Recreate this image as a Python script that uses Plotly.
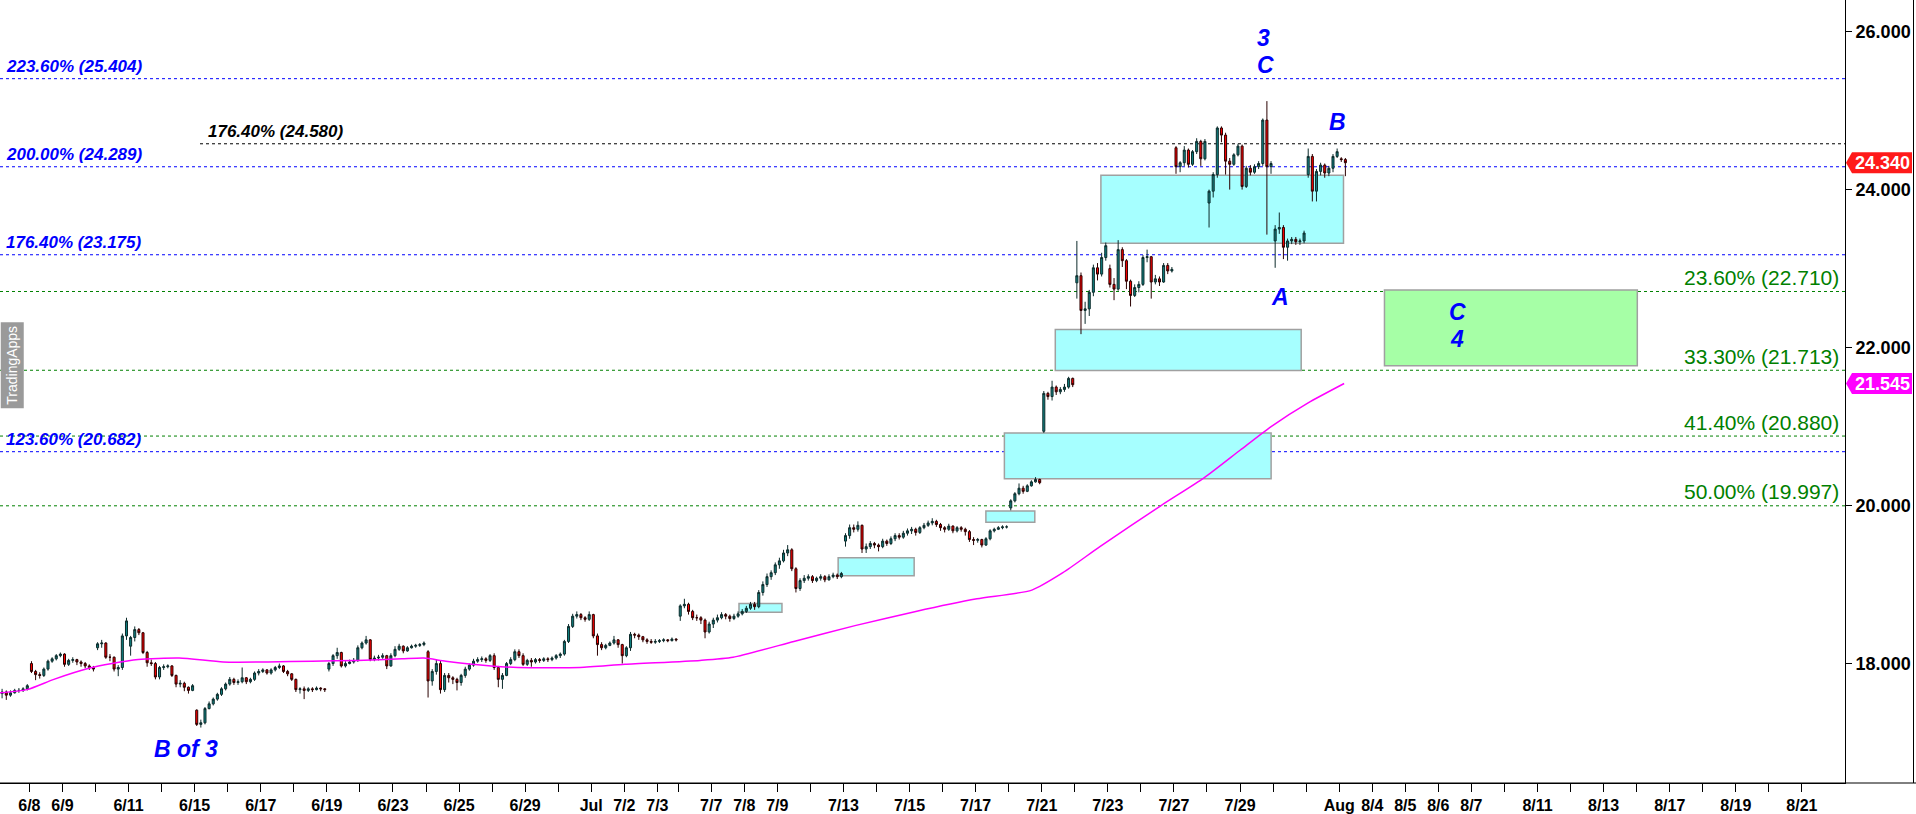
import plotly.graph_objects as go

# ---------------- axis calendar (weekdays 6/8 .. 8/21) ----------------
tick_labels = ["6/8", "6/9", "", "6/11", "",
               "6/15", "", "6/17", "", "6/19",
               "", "6/23", "", "6/25", "",
               "6/29", "", "Jul", "7/2", "7/3",
               "", "7/7", "7/8", "7/9", "",
               "7/13", "", "7/15", "", "7/17",
               "", "7/21", "", "7/23", "",
               "7/27", "", "7/29", "", "",
               "Aug", "8/4", "8/5", "8/6", "8/7",
               "", "8/11", "", "8/13", "",
               "8/17", "", "8/19", "", "8/21"]
short_session_index = 19      # 7/3 holiday-shortened session
short_session_len = 0.63

# ---------------- candle data (one list per session) ----------------
bar_days = ["6/5", "6/8", "6/9", "6/10", "6/11", "6/12", "6/15", "6/16", "6/17", "6/18", "6/19",
            "6/22", "6/23", "6/24", "6/25", "6/26", "6/29", "6/30", "7/1", "7/2", "7/3",
            "7/6", "7/7", "7/8", "7/9", "7/10", "7/13", "7/14", "7/15", "7/16", "7/17",
            "7/20", "7/21", "7/22", "7/23", "7/24", "7/27", "7/28", "7/29", "7/30", "7/31", "8/3"]

day_open = [17.62, 18.00, None, 18.20, 18.22, None, 17.41, None, None, None, 17.93,
            None, None, 18.15, None, None, None, None, None, None, None,
            18.60, None, None, None, None, 19.55, None, None, None, None,
            19.97, 20.94, 22.82, 23.00, None, 24.53, 23.83, None, 23.35, 24.19, 24.39]

closes = [
    [17.64, 17.60, 17.63, 17.66, 17.66, 17.68, 17.72],
    [17.90, 17.86, 17.85, 17.93, 18.03, 18.06, 18.10, 18.12],
    [17.99, 18.04, 18.05, 18.02, 18.00, 17.97, 17.95, 17.93],
    [18.25, 18.26, 18.08, 18.08, 17.93, 17.95, 18.35, 18.54],
    [18.33, 18.43, 18.39, 18.14, 18.01, 18.00, 17.83, 17.95],
    [17.96, 17.97, 17.85, 17.74, 17.75, 17.70, 17.66, 17.72],
    [17.23, 17.25, 17.43, 17.49, 17.55, 17.61, 17.68, 17.74],
    [17.80, 17.76, 17.77, 17.82, 17.77, 17.80, 17.88, 17.90],
    [17.92, 17.88, 17.92, 17.95, 17.97, 17.90, 17.87, 17.80],
    [17.67, 17.68, 17.66, 17.68, 17.67, 17.69, 17.68, 17.67],
    [18.00, 18.10, 18.14, 17.97, 18.00, 18.02, 18.04, 18.20],
    [18.26, 18.30, 18.05, 18.07, 18.08, 18.10, 17.97, 18.10],
    [18.18, 18.22, 18.16, 18.20, 18.22, 18.23, 18.24, 18.26],
    [17.78, 17.90, 18.00, 17.67, 17.85, 17.82, 17.80, 17.76],
    [17.85, 17.93, 17.98, 18.03, 18.05, 18.06, 18.04, 18.10],
    [17.95, 17.80, 17.85, 18.00, 18.05, 18.15, 18.10, 17.99],
    [18.04, 18.02, 18.05, 18.04, 18.06, 18.05, 18.07, 18.10],
    [18.12, 18.28, 18.47, 18.60, 18.62, 18.58, 18.56, 18.62],
    [18.35, 18.24, 18.20, 18.23, 18.26, 18.30, 18.24, 18.10],
    [18.20, 18.37, 18.36, 18.34, 18.30, 18.28, 18.27, 18.28],
    [18.29, 18.30, 18.29, 18.31, 18.30],
    [18.73, 18.75, 18.66, 18.58, 18.58, 18.55, 18.40, 18.50],
    [18.55, 18.58, 18.62, 18.60, 18.57, 18.60, 18.63, 18.66],
    [18.70, 18.75, 18.72, 18.90, 19.00, 19.10, 19.15, 19.25],
    [19.30, 19.40, 19.44, 19.20, 18.95, 19.05, 19.08, 19.10],
    [19.05, 19.08, 19.10, 19.06, 19.10, 19.12, 19.10, 19.14],
    [19.62, 19.72, 19.70, 19.75, 19.45, 19.48, 19.52, 19.50],
    [19.48, 19.55, 19.52, 19.58, 19.62, 19.60, 19.65, 19.68],
    [19.70, 19.66, 19.72, 19.75, 19.78, 19.80, 19.76, 19.72],
    [19.70, 19.74, 19.68, 19.72, 19.70, 19.67, 19.57, 19.56],
    [19.57, 19.50, 19.58, 19.68, 19.70, 19.72, 19.73, 19.73],
    [20.06, 20.15, 20.22, 20.18, 20.25, 20.30, 20.33, 20.29],
    [21.42, 21.38, 21.50, 21.44, 21.47, 21.50, 21.61, 21.53],
    [22.91, 22.47, 22.49, 22.70, 23.01, 22.93, 23.14, 23.29],
    [22.80, 22.74, 23.24, 23.10, 22.84, 22.66, 22.76, 22.80],
    [23.14, 23.15, 22.83, 22.87, 22.83, 23.04, 22.97, 22.99],
    [24.29, 24.34, 24.50, 24.32, 24.48, 24.61, 24.39, 24.61],
    [23.98, 24.19, 24.78, 24.69, 24.36, 24.32, 24.44, 24.55],
    [24.04, 24.27, 24.22, 24.29, 24.33, 24.88, 24.29, 24.33],
    [23.50, 23.52, 23.27, 23.35, 23.37, 23.34, 23.35, 23.45],
    [24.42, 23.98, 24.23, 24.31, 24.21, 24.27, 24.42, 24.48],
    [24.38, 24.34],
]

highs = [
    [17.68, 17.66, 17.66, 17.68, 17.69, 17.70, 17.74],
    [18.03, 17.92, 17.89, 17.95, 18.05, 18.08, 18.12, 18.14],
    [18.13, 18.06, 18.08, 18.06, 18.04, 18.02, 17.99, 17.97],
    [18.27, 18.30, 18.27, 18.12, 18.09, 17.98, 18.38, 18.58],
    [18.35, 18.47, 18.45, 18.40, 18.16, 18.05, 18.02, 17.97],
    [17.99, 17.99, 17.98, 17.86, 17.79, 17.77, 17.71, 17.74],
    [17.42, 17.29, 17.45, 17.52, 17.57, 17.63, 17.70, 17.76],
    [17.83, 17.82, 17.80, 17.95, 17.83, 17.82, 17.90, 17.93],
    [17.94, 17.93, 17.94, 17.97, 18.00, 17.98, 17.92, 17.88],
    [17.81, 17.70, 17.71, 17.70, 17.70, 17.71, 17.70, 17.69],
    [18.02, 18.12, 18.20, 18.15, 18.03, 18.05, 18.07, 18.23],
    [18.28, 18.35, 18.31, 18.10, 18.11, 18.13, 18.11, 18.13],
    [18.22, 18.25, 18.23, 18.22, 18.24, 18.25, 18.26, 18.28],
    [18.17, 17.93, 18.05, 18.04, 17.88, 17.88, 17.84, 17.82],
    [17.87, 17.96, 18.00, 18.06, 18.08, 18.09, 18.08, 18.12],
    [18.13, 17.97, 17.88, 18.02, 18.08, 18.18, 18.18, 18.13],
    [18.06, 18.07, 18.07, 18.07, 18.08, 18.08, 18.09, 18.12],
    [18.14, 18.30, 18.50, 18.63, 18.66, 18.64, 18.60, 18.66],
    [18.63, 18.38, 18.27, 18.25, 18.28, 18.35, 18.31, 18.25],
    [18.22, 18.40, 18.39, 18.38, 18.35, 18.32, 18.31, 18.31],
    [18.31, 18.32, 18.31, 18.33, 18.32],
    [18.75, 18.82, 18.77, 18.68, 18.62, 18.60, 18.57, 18.53],
    [18.58, 18.62, 18.65, 18.64, 18.62, 18.63, 18.66, 18.69],
    [18.73, 18.78, 18.78, 18.93, 19.04, 19.14, 19.18, 19.28],
    [19.34, 19.44, 19.50, 19.46, 19.22, 19.08, 19.12, 19.13],
    [19.12, 19.10, 19.13, 19.12, 19.13, 19.15, 19.14, 19.16],
    [19.65, 19.76, 19.76, 19.80, 19.76, 19.52, 19.55, 19.54],
    [19.52, 19.58, 19.57, 19.61, 19.65, 19.65, 19.68, 19.71],
    [19.73, 19.72, 19.74, 19.78, 19.81, 19.84, 19.82, 19.78],
    [19.74, 19.77, 19.75, 19.74, 19.74, 19.72, 19.69, 19.60],
    [19.59, 19.58, 19.60, 19.70, 19.72, 19.74, 19.75, 19.75],
    [20.08, 20.17, 20.28, 20.25, 20.27, 20.32, 20.36, 20.34],
    [21.45, 21.44, 21.58, 21.52, 21.50, 21.54, 21.63, 21.62],
    [23.35, 22.95, 22.58, 22.73, 23.05, 23.07, 23.20, 23.33],
    [23.05, 22.88, 23.36, 23.27, 23.12, 22.86, 22.80, 22.84],
    [23.17, 23.24, 23.16, 22.92, 22.90, 23.07, 23.07, 23.02],
    [24.55, 24.36, 24.55, 24.52, 24.50, 24.65, 24.63, 24.64],
    [24.00, 24.22, 24.80, 24.80, 24.72, 24.40, 24.46, 24.58],
    [24.57, 24.30, 24.31, 24.32, 24.36, 24.90, 25.12, 24.36],
    [23.55, 23.71, 23.55, 23.38, 23.40, 23.40, 23.38, 23.48],
    [24.52, 24.45, 24.26, 24.34, 24.33, 24.30, 24.45, 24.52],
    [24.41, 24.40],
]

lows = [
    [17.56, 17.54, 17.58, 17.62, 17.63, 17.64, 17.66],
    [17.88, 17.79, 17.81, 17.83, 17.91, 18.01, 18.04, 18.08],
    [17.96, 17.97, 18.01, 17.98, 17.96, 17.94, 17.92, 17.90],
    [18.17, 18.20, 18.06, 18.03, 17.90, 17.84, 17.92, 18.30],
    [18.10, 18.28, 18.36, 18.12, 17.96, 17.97, 17.80, 17.80],
    [17.92, 17.94, 17.83, 17.70, 17.70, 17.65, 17.62, 17.65],
    [17.21, 17.19, 17.23, 17.42, 17.47, 17.53, 17.59, 17.66],
    [17.72, 17.73, 17.73, 17.75, 17.74, 17.75, 17.78, 17.85],
    [17.88, 17.86, 17.86, 17.90, 17.93, 17.88, 17.84, 17.78],
    [17.64, 17.62, 17.55, 17.64, 17.64, 17.66, 17.65, 17.64],
    [17.90, 17.97, 18.06, 17.95, 17.95, 17.99, 18.00, 18.02],
    [18.18, 18.24, 18.03, 18.03, 18.04, 18.06, 17.93, 17.96],
    [18.08, 18.16, 18.13, 18.15, 18.19, 18.20, 18.21, 18.22],
    [17.57, 17.72, 17.86, 17.62, 17.64, 17.76, 17.74, 17.66],
    [17.72, 17.82, 17.91, 17.96, 18.01, 18.02, 18.01, 18.02],
    [17.92, 17.70, 17.68, 17.84, 17.98, 18.03, 18.07, 17.97],
    [17.97, 17.96, 18.00, 18.01, 18.02, 18.02, 18.03, 18.05],
    [18.07, 18.10, 18.26, 18.45, 18.57, 18.55, 18.53, 18.54],
    [18.32, 18.10, 18.17, 18.18, 18.22, 18.24, 18.20, 18.00],
    [18.08, 18.16, 18.32, 18.30, 18.27, 18.25, 18.25, 18.25],
    [18.26, 18.27, 18.27, 18.28, 18.28],
    [18.54, 18.70, 18.62, 18.55, 18.54, 18.50, 18.32, 18.38],
    [18.45, 18.52, 18.56, 18.56, 18.53, 18.55, 18.58, 18.61],
    [18.64, 18.68, 18.68, 18.70, 18.86, 18.97, 19.06, 19.12],
    [19.20, 19.28, 19.36, 19.17, 18.90, 18.92, 19.02, 19.05],
    [19.02, 19.03, 19.05, 19.03, 19.05, 19.08, 19.07, 19.08],
    [19.48, 19.58, 19.66, 19.67, 19.40, 19.40, 19.45, 19.46],
    [19.42, 19.46, 19.49, 19.50, 19.55, 19.57, 19.58, 19.62],
    [19.64, 19.62, 19.64, 19.70, 19.73, 19.75, 19.73, 19.68],
    [19.66, 19.68, 19.65, 19.66, 19.67, 19.62, 19.54, 19.50],
    [19.53, 19.47, 19.49, 19.56, 19.66, 19.69, 19.70, 19.71],
    [19.94, 20.04, 20.13, 20.15, 20.17, 20.24, 20.29, 20.27],
    [20.92, 21.34, 21.33, 21.40, 21.41, 21.44, 21.48, 21.50],
    [22.62, 22.17, 22.30, 22.40, 22.65, 22.85, 22.90, 23.10],
    [22.76, 22.60, 22.72, 23.02, 22.74, 22.52, 22.64, 22.70],
    [22.78, 23.08, 22.62, 22.80, 22.78, 22.82, 22.93, 22.95],
    [24.20, 24.22, 24.30, 24.28, 24.30, 24.45, 24.30, 24.37],
    [23.52, 23.90, 24.15, 24.60, 24.19, 24.00, 24.30, 24.42],
    [24.00, 24.02, 24.18, 24.20, 24.26, 24.30, 23.43, 24.20],
    [23.01, 23.44, 23.12, 23.10, 23.31, 23.30, 23.30, 23.32],
    [24.15, 23.85, 23.85, 24.18, 24.15, 24.17, 24.22, 24.40],
    [24.35, 24.17],
]

# moving average (magenta): session position, price
ma_pos = [-0.89, -0.07, 0.74, 1.80, 2.50, 3.29, 4.53, 5.86, 7.22, 8.55, 9.91, 11.27, 11.94,
          12.60, 13.97, 14.78, 16.66, 18.02, 20.29, 21.29, 23.13, 24.98, 26.82, 28.67,
          30.33, 31.27, 32.39, 34.24, 35.54, 36.63, 37.57, 38.69, 39.78]
ma_val = [17.63, 17.67, 17.80, 17.94, 18.00, 18.05, 18.07, 18.02, 18.02, 18.03, 18.04, 18.06,
          18.07, 18.03, 17.97, 17.95, 17.95, 17.99, 18.04, 18.08, 18.28, 18.48, 18.66, 18.82,
          18.93, 19.15, 19.48, 20.00, 20.35, 20.70, 21.00, 21.30, 21.545]

# fibonacci levels
fib_blue = [(25.404, "223.60% (25.404)"), (24.289, "200.00% (24.289)"),
            (23.175, "176.40% (23.175)"), (20.682, "123.60% (20.682)")]
fib_black = [(24.580, "176.40% (24.580)")]
fib_green = [(22.710, "23.60% (22.710)"), (21.713, "33.30% (21.713)"),
             (20.880, "41.40% (20.880)"), (19.997, "50.00% (19.997)")]

# zones: (session start, session end, low, high)
cyan_zones = [(21.47, 22.77, 18.65, 18.76), (24.47, 26.77, 19.11, 19.34),
              (28.94, 30.42, 19.79, 19.93), (29.50, 37.57, 20.34, 20.92),
              (31.04, 38.48, 21.71, 22.23), (32.42, 39.76, 23.32, 24.18)]
green_zone = (41.00, 48.65, 21.77, 22.73)

# wave labels: (text, session position, price)
wave_labels = [("3", 37.33, 25.92), ("C", 37.39, 25.58), ("B", 39.59, 24.85),
               ("A", 37.84, 22.64), ("B of 3", 4.74, 16.92),
               ("C", 43.20, 22.45), ("4", 43.20, 22.11)]

last_price = 24.340
ma_last = 21.545

# ---------------- geometry ----------------
W, H = 1916, 814
PLOT_W, PLOT_H = 1845, 786
x_lo, x_hi = -0.8896, 54.934
y_lo, y_hi = 16.488, 26.400

# session start positions for the axis
tick_pos = []
p = 0.0
for i in range(len(tick_labels)):
    tick_pos.append(p)
    p += short_session_len if i == short_session_index else 1.0

# candle x positions
xs, o_, h_, l_, c_ = [], [], [], [], []
prev_close = None
for j, day in enumerate(bar_days):
    if j == 0:
        start, span = -0.89, 0.89
    elif j == len(bar_days) - 1:
        start, span = tick_pos[j - 1], 0.25
    else:
        start = tick_pos[j - 1]
        span = short_session_len if (j - 1) == short_session_index else 1.0
    n = len(closes[j])
    for k in range(n):
        xs.append(start + span * (k + 0.5) / n)
        if k == 0 and day_open[j] is not None:
            op = day_open[j]
        else:
            op = prev_close
        o_.append(op)
        c_.append(closes[j][k])
        h_.append(highs[j][k])
        l_.append(lows[j][k])
        prev_close = closes[j][k]

fig = go.Figure()
fig.add_trace(go.Candlestick(
    x=xs, open=o_, high=h_, low=l_, close=c_,
    increasing=dict(fillcolor="#0f7f7f", line=dict(color="#0d2b2b", width=1)),
    decreasing=dict(fillcolor="#ff0000", line=dict(color="#2a0000", width=1)),
    whiskerwidth=0, showlegend=False, hoverinfo="skip"))
fig.add_trace(go.Scatter(x=ma_pos, y=ma_val, mode="lines",
                         line=dict(color="#ff00ff", width=1.5, shape="spline", smoothing=0.6),
                         showlegend=False, hoverinfo="skip"))

shapes = []
for (x0, x1, y0, y1) in cyan_zones:
    shapes.append(dict(type="rect", xref="x", yref="y", x0=x0, x1=x1, y0=y0, y1=y1,
                       fillcolor="#a6ffff", line=dict(color="#a0a0a0", width=1.5), layer="below"))
gx0, gx1, gy0, gy1 = green_zone
shapes.append(dict(type="rect", xref="x", yref="y", x0=gx0, x1=gx1, y0=gy0, y1=gy1,
                   fillcolor="#a6ffa6", line=dict(color="#a0a0a0", width=1.5), layer="below"))

DASH = "3px,3px"
for v, t in fib_blue:
    shapes.append(dict(type="line", xref="paper", yref="y", x0=0, x1=1, y0=v, y1=v,
                       line=dict(color="#0000ff", width=1, dash=DASH), layer="below"))
for v, t in fib_black:
    shapes.append(dict(type="line", xref="paper", yref="y", x0=200 / PLOT_W, x1=1, y0=v, y1=v,
                       line=dict(color="#000000", width=1, dash=DASH), layer="below"))
for v, t in fib_green:
    shapes.append(dict(type="line", xref="paper", yref="y", x0=0, x1=1, y0=v, y1=v,
                       line=dict(color="#008000", width=1, dash=DASH), layer="below"))

# frame lines of the right scale panel
shapes.append(dict(type="line", xref="paper", yref="paper", x0=0, x1=W / PLOT_W, y0=0, y1=0,
                   line=dict(color="#000000", width=1)))
shapes.append(dict(type="line", xref="paper", yref="paper", x0=1913.5 / PLOT_W, x1=1913.5 / PLOT_W,
                   y0=0, y1=1, line=dict(color="#000000", width=1)))

annotations = []
LBL = "Liberation Sans"
for v, t in fib_blue:
    annotations.append(dict(x=4 / PLOT_W, xref="paper", y=v, yref="y", text=t, showarrow=False,
                            xanchor="left", yanchor="middle", yshift=12,
                            font=dict(family=LBL, size=17, color="#0000ff", weight="bold", style="italic")))
for v, t in fib_black:
    annotations.append(dict(x=206 / PLOT_W, xref="paper", y=v, yref="y", text=t, showarrow=False,
                            xanchor="left", yanchor="middle", yshift=12,
                            font=dict(family=LBL, size=17, color="#000000", weight="bold", style="italic")))
for v, t in fib_green:
    annotations.append(dict(x=1841 / PLOT_W, xref="paper", y=v, yref="y", text=t, showarrow=False,
                            xanchor="right", yanchor="middle", yshift=14,
                            font=dict(family=LBL, size=21, color="#008000")))
for t, xp, yp in wave_labels:
    annotations.append(dict(x=xp, y=yp, xref="x", yref="y", text=t, showarrow=False,
                            xanchor="center", yanchor="middle",
                            font=dict(family=LBL, size=23, color="#0000ff", weight="bold", style="italic")))

# price tags on the right scale
def tag(price, color):
    hh = 10.5 * (y_hi - y_lo) / PLOT_H
    xa, xb, xc = 1846 / PLOT_W, 1852 / PLOT_W, 1912 / PLOT_W
    shapes.append(dict(type="path", xref="paper", yref="y",
                       path=f"M {xa},{price} L {xb},{price + hh} L {xc},{price + hh} "
                            f"L {xc},{price - hh} L {xb},{price - hh} Z",
                       fillcolor=color, line=dict(color=color, width=0)))
    annotations.append(dict(x=(1852 + 1912) / 2 / PLOT_W, xref="paper", y=price, yref="y",
                            text=f"{price:.3f}", showarrow=False, xanchor="center", yanchor="middle",
                            font=dict(family=LBL, size=18, color="#ffffff", weight="bold")))

tag(last_price, "#ff1a1a")
tag(ma_last, "#ff00ff")

# vendor tab on the left edge
annotations.append(dict(x=0, xref="paper", y=21.77, yref="y", text="TradingApps", showarrow=False,
                        xanchor="left", yanchor="middle", textangle=-90,
                        bgcolor="#9a9a9a", borderpad=3,
                        font=dict(family=LBL, size=14, color="#ffffff")))

fig.update_layout(
    width=W, height=H,
    margin=dict(l=0, r=W - PLOT_W, t=0, b=H - PLOT_H),
    plot_bgcolor="#ffffff", paper_bgcolor="#ffffff",
    shapes=shapes, annotations=annotations,
    xaxis=dict(range=[x_lo, x_hi], rangeslider=dict(visible=False), showgrid=False, zeroline=False,
               tickmode="array", tickvals=tick_pos, ticktext=tick_labels,
               ticks="outside", ticklen=8, tickcolor="#000000", tickwidth=1,
               showline=True, linecolor="#000000", linewidth=1,
               tickfont=dict(family=LBL, size=16, color="#000000", weight="bold")),
    yaxis=dict(range=[y_lo, y_hi], side="right", showgrid=False, zeroline=False,
               tickmode="array", tickvals=[18, 20, 22, 24, 26],
               ticktext=["18.000", "20.000", "22.000", "24.000", "26.000"],
               ticks="outside", ticklen=6, tickcolor="#000000", tickwidth=1,
               showline=True, linecolor="#000000", linewidth=1,
               tickfont=dict(family=LBL, size=18, color="#000000", weight="bold")),
)

fig.write_html("out.html", config={"displayModeBar": False, "staticPlot": True},
               post_script="document.body.style.margin='0';document.body.style.overflow='hidden';")
